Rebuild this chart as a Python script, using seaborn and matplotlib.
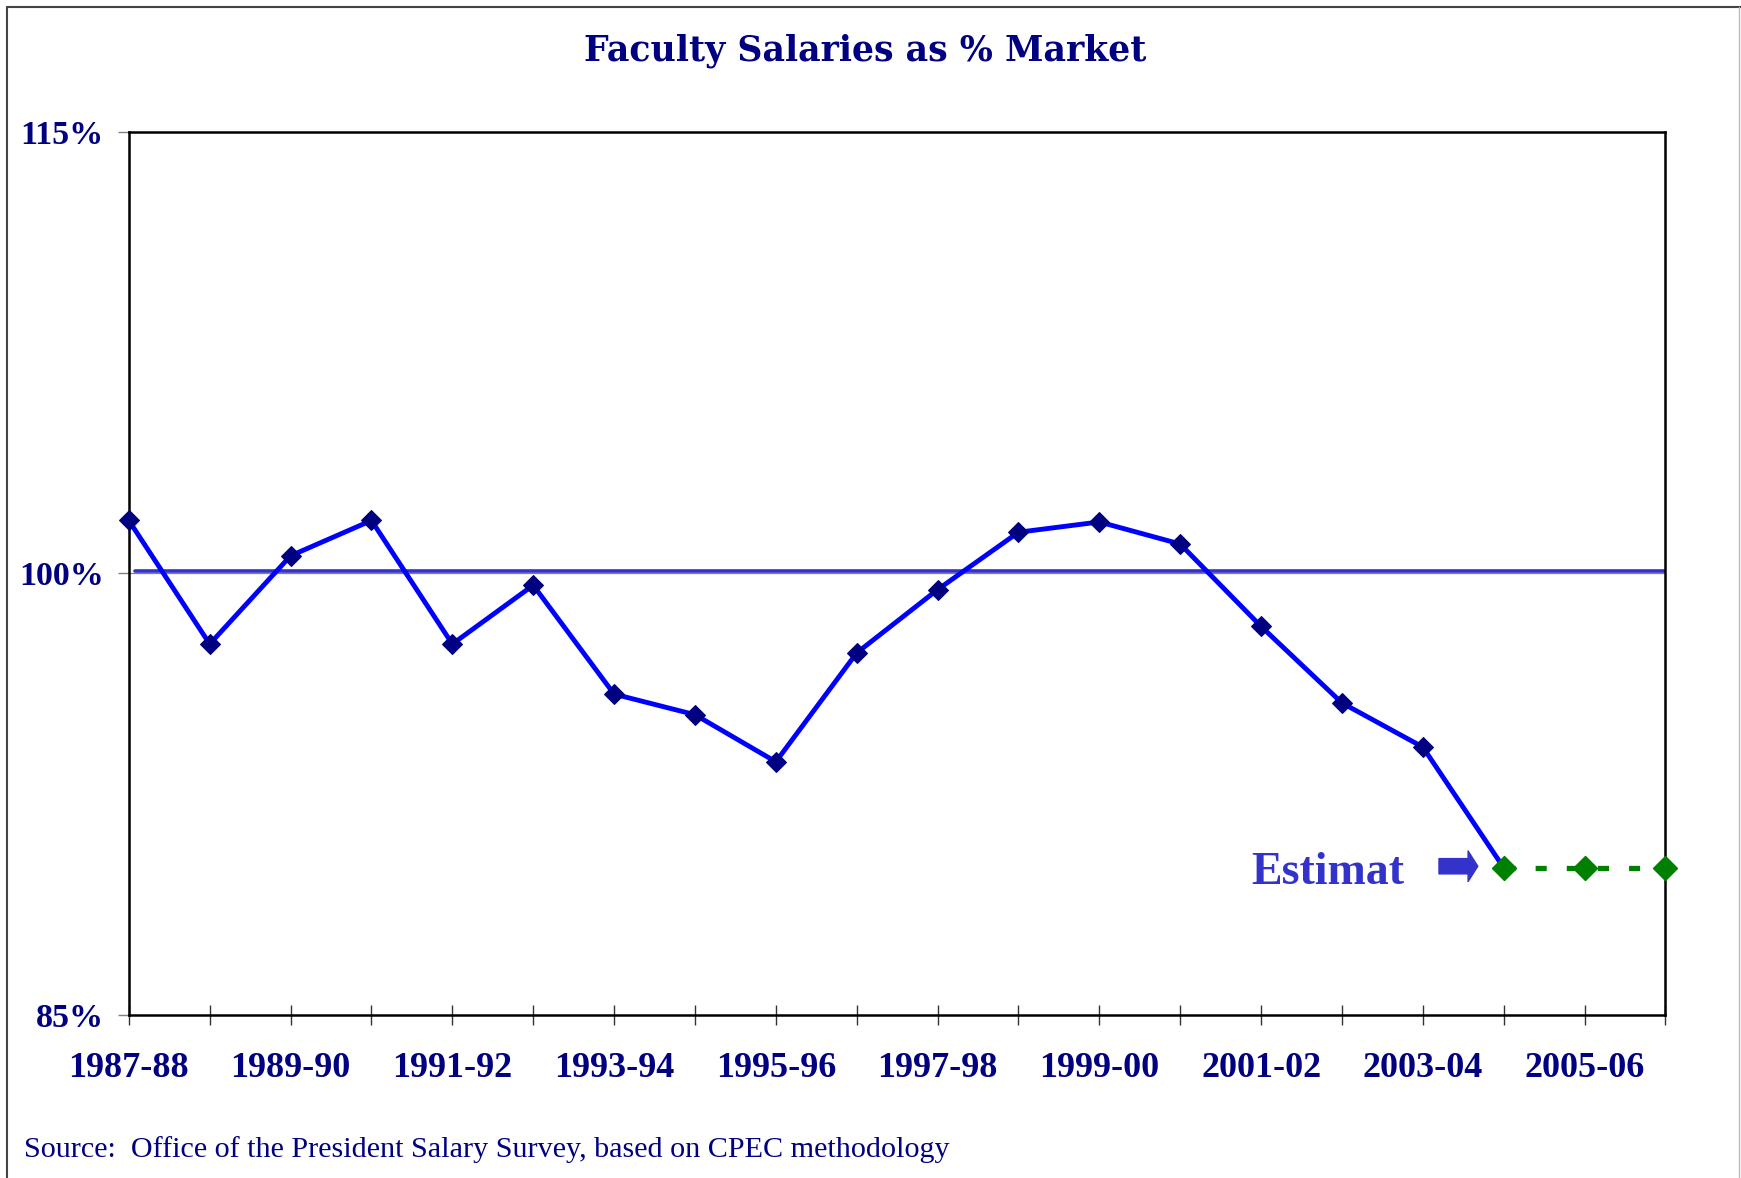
import numpy as np
import pandas as pd
import matplotlib
matplotlib.use('Agg')
import matplotlib.pyplot as plt
import seaborn as sns
from matplotlib.lines import Line2D

# --- data ---
years = ['1987-88', '1988-89', '1989-90', '1990-91', '1991-92', '1992-93',
         '1993-94', '1994-95', '1995-96', '1996-97', '1997-98', '1998-99',
         '1999-00', '2000-01', '2001-02', '2002-03', '2003-04', '2004-05',
         '2005-06', '2006-07']
pct = [101.8, 97.6, 100.6, 101.8, 97.6, 99.6, 95.9, 95.2, 93.6, 97.3,
       99.45, 101.4, 101.75, 101.0, 98.2, 95.6, 94.1, 90.0, 90.0, 90.0]
n_actual = 17          # first 17 points are actual, the rest are estimates
market_line = 100.09
y_ticks = [85, 100, 115]
y_labels = ['85%', '100%', '115%']

navy = '#000080'
blue = '#0000FF'
green = '#008000'
est_blue = '#3333CC'

df = pd.DataFrame({'idx': np.arange(len(years)), 'year': years, 'pct': pct})
df_act = df.iloc[:n_actual + 1]
df_est = df.iloc[n_actual:]

sns.set_style('white')
plt.rcParams['font.family'] = ['Liberation Serif', 'DejaVu Serif']

fig = plt.figure(figsize=(17.41, 11.78), dpi=100)
ax = fig.add_axes([0.074, 0.1385, 0.8826, 0.7494])

# market reference lines
ax.axhline(100, color='#808080', lw=0.9, zorder=1)
ax.axhline(market_line, xmin=0.004, color=est_blue, lw=2.6, zorder=2)

# actual series
sns.lineplot(data=df_act, x='idx', y='pct', ax=ax, color=blue, lw=3.5,
             marker='D', markersize=10.5, markerfacecolor=navy, markeredgecolor=navy,
             markevery=list(range(n_actual)), zorder=3, clip_on=False)

# estimate series
sns.lineplot(data=df_est, x='idx', y='pct', ax=ax, color=green, lw=3.8,
             dashes=False, zorder=4)
ax.lines[-1].set_dashes([2.1, 3.8])
sns.scatterplot(data=df_est, x='idx', y='pct', ax=ax, color=green, marker='D',
                s=150, edgecolor=green, zorder=5, clip_on=False)

ax.text(13.88, 89.82, 'Estimat', color=est_blue, fontsize=33, fontweight='bold',
        va='center', ha='left')
ax.annotate('', xy=(16.68, 90.05), xytext=(16.2, 90.05),
            arrowprops=dict(arrowstyle='simple,head_length=0.35,head_width=1.1,tail_width=0.55',
                            mutation_scale=20, color=est_blue, shrinkA=0, shrinkB=0))

ax.set_xlim(0, len(years) - 1)
ax.set_ylim(85, 115)
ax.set_xticks(range(len(years)))
ax.set_xticklabels([y if i % 2 == 0 else '' for i, y in enumerate(years)])
ax.set_yticks(y_ticks)
ax.set_yticklabels(y_labels)
ax.set_xlabel('')
ax.set_ylabel('')

ax.tick_params(axis='x', bottom=True, direction='inout', length=15, width=1,
               color='#333333', pad=19, labelsize=26, labelcolor=navy)
ax.tick_params(axis='y', left=True, direction='out', length=8, width=1,
               color='#808080', pad=10, labelsize=24.5, labelcolor=navy)
for lab in ax.get_xticklabels() + ax.get_yticklabels():
    lab.set_fontweight('bold')

for sp in ax.spines.values():
    sp.set_visible(True)
    sp.set_color('black')
    sp.set_linewidth(1.8)

fig.text(0.497, 0.957, 'Faculty Salaries as % Market', ha='center', va='center',
         fontsize=25, fontweight='bold', color=navy, family='DejaVu Serif')
fig.text(24 / 1741, 1 - 1150 / 1178,
         'Source:  Office of the President Salary Survey, based on CPEC methodology',
         ha='left', va='center', fontsize=21.7, color=navy)

# outer frame
fig.add_artist(Line2D([7 / 1741, 7 / 1741], [0, 1 - 7 / 1178], transform=fig.transFigure,
                      color='#444444', lw=1.5))
fig.add_artist(Line2D([7 / 1741, 1], [1 - 7 / 1178, 1 - 7 / 1178], transform=fig.transFigure,
                      color='#444444', lw=1.5))
fig.add_artist(Line2D([1739 / 1741, 1739 / 1741], [0, 1 - 7 / 1178], transform=fig.transFigure,
                      color='#BBBBBB', lw=1.0))

fig.savefig('out.png', dpi=100)
